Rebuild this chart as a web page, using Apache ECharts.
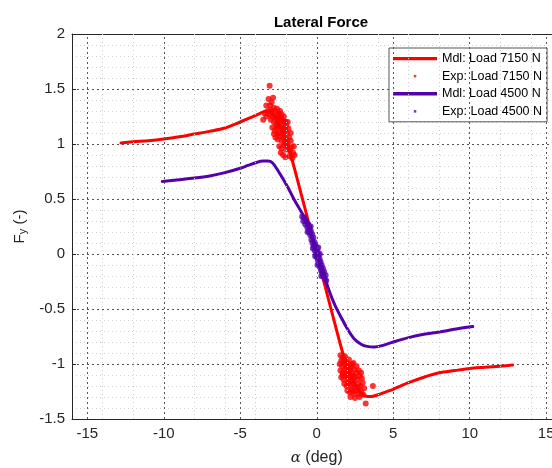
<!DOCTYPE html>
<html>
<head>
<meta charset="utf-8">
<script src="https://cdn.jsdelivr.net/npm/echarts@6/dist/echarts.min.js"></script>
<style>
html,body{margin:0;padding:0;background:#fff;}
#chart{width:552px;height:468px;}
</style>
</head>
<body>
<div id="chart"></div>
<script>
// ---- data ----
const legendNames = ['Mdl: Load 7150 N', 'Exp: Load 7150 N', 'Mdl: Load 4500 N', 'Exp: Load 4500 N'];
const xTickLabels = [-15, -10, -5, 0, 5, 10, 15];
const xMinorGrid = [-14, -12, -8, -6, -4, -2, 2, 4, 6, 8, 12, 14];

const redModelX = [-12.8,-12,-11,-10,-9,-8,-7,-6,-5,-4.5,-4,-3.6,-3.3,-3.0,-2.7,-2.4,-2.1,-1.8,-1.5,-1,-0.5,0,0.5,1,1.5,1.8,2.1,2.4,2.7,3.0,3.3,3.6,4,4.5,5,6,7,8,9,10,11,12,12.8];
const redModelY = [1.01,1.02,1.03,1.045,1.065,1.09,1.115,1.145,1.2,1.23,1.26,1.285,1.3,1.285,1.24,1.16,1.06,0.945,0.8,0.535,0.27,0,-0.27,-0.535,-0.8,-0.945,-1.06,-1.16,-1.23,-1.275,-1.295,-1.295,-1.28,-1.255,-1.23,-1.17,-1.12,-1.08,-1.06,-1.04,-1.03,-1.02,-1.01];

const purpleModelX = [-10.1,-9,-8,-7,-6,-5,-4.5,-4,-3.5,-3.2,-2.9,-2.5,-1.9,-1.5,-0.84,-0.4,0,0.4,0.8,1.2,1.57,2,2.44,2.9,3.3,3.8,4.2,5,6,7,8,9,10.2];
const purpleModelY = [0.66,0.675,0.69,0.71,0.74,0.78,0.805,0.83,0.845,0.845,0.83,0.75,0.61,0.5,0.34,0.19,0.036,-0.15,-0.33,-0.47,-0.57,-0.68,-0.77,-0.82,-0.84,-0.845,-0.835,-0.8,-0.76,-0.73,-0.71,-0.685,-0.66];

const expRed7150 = [
 [-3.08,1.53],[-3.15,1.41],[-2.95,1.38],[-3.05,1.35],[-2.85,1.42],
 [-3.4,1.28],[-3.3,1.25],[-3.2,1.3],[-3.1,1.27],[-3.0,1.31],[-2.9,1.29],[-2.8,1.33],[-2.7,1.3],[-2.6,1.32],[-2.5,1.28],[-2.4,1.3],[-2.3,1.27],
 [-3.0,1.22],[-2.9,1.25],[-2.8,1.2],[-2.7,1.24],[-2.6,1.19],[-2.5,1.23],[-2.4,1.2],[-2.3,1.22],[-2.2,1.18],[-2.1,1.21],[-2.0,1.17],
 [-2.9,1.15],[-2.75,1.12],[-2.6,1.14],[-2.45,1.1],[-2.35,1.15],[-2.25,1.12],[-2.15,1.09],[-2.05,1.13],[-1.95,1.1],[-1.85,1.14],
 [-2.7,1.06],[-2.55,1.04],[-2.4,1.07],[-2.3,1.03],[-2.2,1.06],[-2.1,1.02],[-2.0,1.05],[-1.9,1.01],[-1.8,1.06],[-1.7,1.03],
 [-2.45,0.98],[-2.3,0.96],[-2.15,0.99],[-2.0,0.95],[-1.9,0.98],[-1.75,0.94],[-1.65,0.97],[-1.55,0.92],
 [-2.2,0.9],[-2.05,0.88],[-1.8,0.89],[-1.6,0.87],[-1.45,0.9],[-2.35,0.92],[-1.5,0.98],[-3.5,1.22],[-3.3,1.35],[-1.7,1.1],[-1.9,1.2],
 [-2.55,1.26],[-2.35,1.24],[-2.15,1.25],[-2.65,1.17],[-2.5,1.16],[-2.2,1.14],[-2.05,1.2],[-2.8,1.09],[-2.55,1.09],[-2.0,1.0],
 [1.55,-0.92],[1.7,-0.94],[1.85,-0.93],[1.6,-0.97],[1.9,-0.98],
 [1.5,-1.0],[1.65,-1.02],[1.8,-1.0],[1.95,-1.03],[2.1,-1.0],[2.25,-1.02],[2.4,-0.99],
 [1.55,-1.06],[1.7,-1.08],[1.85,-1.05],[2.0,-1.08],[2.15,-1.06],[2.3,-1.09],[2.45,-1.05],[2.6,-1.08],[2.75,-1.06],
 [1.6,-1.12],[1.75,-1.14],[1.9,-1.11],[2.05,-1.14],[2.2,-1.12],[2.35,-1.15],[2.5,-1.12],[2.65,-1.14],[2.8,-1.11],[2.95,-1.13],
 [1.8,-1.18],[1.95,-1.2],[2.1,-1.17],[2.25,-1.2],[2.4,-1.18],[2.55,-1.21],[2.7,-1.18],[2.85,-1.2],[3.0,-1.17],
 [2.0,-1.24],[2.15,-1.26],[2.3,-1.23],[2.45,-1.27],[2.6,-1.24],[2.75,-1.27],[2.9,-1.25],[3.05,-1.28],
 [2.2,-1.3],[2.5,-1.31],[2.8,-1.3],[3.2,-1.36],[3.67,-1.2],[2.1,-0.96],[2.3,-1.0],[1.75,-0.97],[2.9,-1.08],[3.1,-1.22],
 [1.95,-1.1],[2.2,-1.04],[2.4,-1.11],[2.6,-1.02],[2.7,-1.22],[2.35,-1.25],[2.05,-1.18],[1.7,-1.1]
];

const expPurple4500 = [
 [-0.95,0.34],[-0.88,0.3],[-0.82,0.33],[-0.75,0.27],[-0.7,0.3],[-0.62,0.24],[-0.55,0.27],[-0.5,0.2],[-0.48,0.24],[-0.42,0.17],
 [-0.38,0.21],[-0.35,0.13],[-0.3,0.18],[-0.28,0.1],[-0.22,0.15],[-0.2,0.07],[-0.15,0.11],[-0.12,0.03],[-0.08,0.08],[-0.05,0.0],
 [0.0,0.05],[0.02,-0.03],[0.06,0.02],[0.08,-0.06],[0.12,-0.01],[0.15,-0.09],[0.18,-0.04],[0.22,-0.12],[0.25,-0.07],[0.28,-0.15],
 [0.32,-0.1],[0.35,-0.17],[0.4,-0.13],[0.42,-0.2],[0.48,-0.16],[0.52,-0.22],[0.58,-0.19],[0.62,-0.24],[-0.25,0.05],[0.1,0.06],
 [-0.4,0.25],[0.3,-0.2],[-0.6,0.2],[0.2,0.0],[-0.1,-0.02],[0.05,-0.1]
];

// ---- build ----
const RED = '#ff0000';
const PURPLE = '#5500aa';
const TXT = '#262626';
const FONT = '"Liberation Sans", Arial, sans-serif';
const pairs = (xs, ys) => xs.map((x, i) => [x, ys[i]]);

const lineIcon = 'path://M0,0M44,13M0,4.9h44v3.3h-44z';
const dotIcon = 'path://M0,0M44,13M20.8,5.3h2.5v2.5h-2.5z';

const chart = echarts.init(document.getElementById('chart'), null, {renderer: 'canvas'});
chart.setOption({
  animation: false,
  backgroundColor: '#ffffff',
  title: {
    text: 'Lateral Force',
    left: 316, top: 10, textAlign: 'center',
    textStyle: {fontFamily: FONT, fontSize: 15, fontWeight: 'bold', color: '#000'}
  },
  grid: {left: 72, right: -9.5, top: 34, bottom: 49, containLabel: false, outerBoundsMode: 'none'},
  legend: {
    orient: 'vertical',
    left: 389, top: 48,
    padding: [4, 5, 4, 4],
    itemWidth: 44, itemHeight: 13, itemGap: 4.6,
    backgroundColor: '#fff',
    borderColor: '#555', borderWidth: 1,
    textStyle: {fontFamily: FONT, fontSize: 12.5, color: '#000'},
    itemStyle: {borderWidth: 0},
    data: [
      {name: legendNames[0], icon: lineIcon},
      {name: legendNames[1], icon: dotIcon},
      {name: legendNames[2], icon: lineIcon},
      {name: legendNames[3], icon: dotIcon}
    ]
  },
  xAxis: [{
    type: 'value', min: -16, max: 16, interval: 1,
    name: '{i|α} (deg)', nameLocation: 'middle', nameGap: 31,
    nameTextStyle: {fontFamily: FONT, fontSize: 16, color: TXT, rich: {i: {fontFamily: '"DejaVu Serif", serif', fontStyle: 'italic', fontSize: 15, color: TXT}}},
    axisLine: {show: true, onZero: false, lineStyle: {color: '#262626', width: 1}},
    axisTick: {show: false},
    axisLabel: {fontFamily: FONT, fontSize: 15, color: TXT, margin: 7,
      formatter: v => (xTickLabels.indexOf(v) >= 0 ? String(v) : '')},
    splitLine: {show: false}
  }, {
    type: 'value', min: -16, max: 16, position: 'top',
    axisLine: {show: true, onZero: false, lineStyle: {color: '#262626', width: 1}},
    axisTick: {show: false}, axisLabel: {show: false}, splitLine: {show: false}
  }],
  yAxis: {
    type: 'value', min: -1.5, max: 2, interval: 0.5,
    name: 'F{sub|y} (-)', nameLocation: 'middle', nameGap: 34, nameRotate: 90,
    nameTextStyle: {fontFamily: FONT, fontSize: 15, color: TXT, rich: {sub: {fontFamily: FONT, fontSize: 11, color: TXT, verticalAlign: 'bottom', padding: [6, 0, 0, 0]}}},
    axisLine: {show: true, onZero: false, lineStyle: {color: '#262626', width: 1}},
    axisTick: {show: true, inside: true, length: 4, lineStyle: {color: '#262626'}},
    axisLabel: {fontFamily: FONT, fontSize: 15, color: TXT, margin: 7},
    splitLine: {show: true, lineStyle: {color: '#555', width: 1, type: [2, 3]}},
    minorTick: {show: false, splitNumber: 5},
    minorSplitLine: {show: true, lineStyle: {color: '#cfcfcf', width: 1, type: [1, 3]}}
  },
  series: [
    {
      name: 'xMinorGrid', type: 'line', data: [], silent: true, z: 1,
      markLine: {silent: true, symbol: 'none', label: {show: false},
        lineStyle: {color: '#cfcfcf', width: 1, type: [1, 3]},
        data: xMinorGrid.map(v => ({xAxis: v}))}
    },
    {
      name: 'xMajorGrid', type: 'line', data: [], silent: true, z: 1,
      markLine: {silent: true, symbol: 'none', label: {show: false},
        lineStyle: {color: '#555', width: 1, type: [2, 3]},
        data: xTickLabels.map(v => ({xAxis: v}))}
    },
    {
      name: legendNames[0], type: 'line', data: pairs(redModelX, redModelY),
      showSymbol: false, symbol: 'none', smooth: 0.3, z: 3,
      itemStyle: {color: RED}, lineStyle: {color: RED, width: 3, join: 'round', cap: 'round'}
    },
    {
      name: legendNames[1], type: 'scatter', data: expRed7150, z: 4,
      symbol: 'circle', symbolSize: 6, itemStyle: {color: RED}
    },
    {
      name: legendNames[2], type: 'line', data: pairs(purpleModelX, purpleModelY),
      showSymbol: false, symbol: 'none', smooth: 0.3, z: 3,
      itemStyle: {color: PURPLE}, lineStyle: {color: PURPLE, width: 3, join: 'round', cap: 'round'}
    },
    {
      name: legendNames[3], type: 'scatter', data: expPurple4500, z: 4,
      symbol: 'circle', symbolSize: 6, itemStyle: {color: PURPLE}
    }
  ]
});
</script>
</body>
</html>
